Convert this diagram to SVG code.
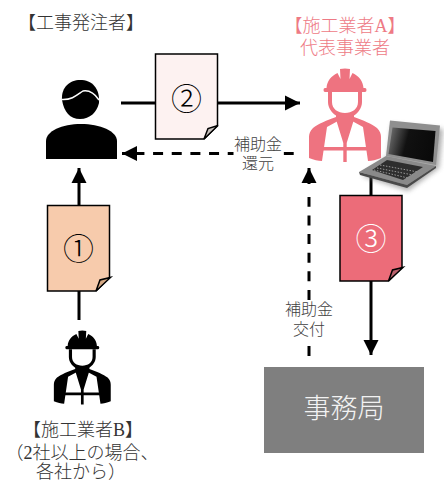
<svg xmlns="http://www.w3.org/2000/svg" width="444" height="482" viewBox="0 0 444 482">
<style>
text{font-family:"Liberation Serif","Noto Sans CJK JP",serif;text-anchor:middle}
.lbl{font-size:18px;font-weight:300;fill:#333}
.pink{fill:#ee7a85}
.small{font-size:16px;font-weight:300;fill:#404040}
.line{stroke:#000;stroke-width:3;fill:none}
.dash{stroke-dasharray:10 8.66}
.doc{stroke:#000;stroke-width:1.5}
.num{font-family:"Noto Sans CJK JP",sans-serif;font-size:31px;font-weight:300}
</style>
<defs>
<marker id="arr" markerUnits="userSpaceOnUse" markerWidth="16" markerHeight="16" refX="15" refY="8" orient="auto"><path d="M0 0.500L15 8L0 15.500z" fill="#000"/></marker>
<linearGradient id="scr" x1="0" y1="0" x2="1" y2="0.2"><stop offset="0" stop-color="#777"/><stop offset=".45" stop-color="#111"/><stop offset="1" stop-color="#0a0a0a"/></linearGradient>
<filter id="blur" x="-20%" y="-20%" width="140%" height="140%"><feGaussianBlur stdDeviation="2.500"/></filter>
<g id="worker">
<path d="M-5 4Q0 3 5 4L4.500 14L7.500 8C14 11 18 16 18.500 23H20Q21.500 23 21.500 25Q21.500 27 20 27H-20Q-21.500 27-21.500 25Q-21.500 23-20 23H-18.500C-18 16-14 11-7.500 8L-4.500 14z"/>
<path d="M-17 27H-13V37C-13 44-7 48 0 48S13 44 13 37V27H17V37C17 43 13 48 9 50.500V52C18 55 27 59 32 63C35 66 36 69 36 72V93C31 95 27 96 23 96L18 62L8 56.500H-8L-18 62L-23 96C-27 96-31 95-36 93V72C-36 69-35 66-32 63C-27 59-18 55-9 52V50.500C-13 48-17 43-17 37z"/>
<path d="M-8.500 56H8.500L1.700 78V82H23V85.500H1.700V97H-1.700V85.500H-23V82H-1.700V78z"/>
</g>
</defs>
<g id="connectors">
<path class="line" d="M121 103H300" marker-end="url(#arr)"/>
<path class="line dash" d="M293.700 153.500H122" marker-end="url(#arr)"/>
<path class="line" d="M79 320V168" marker-end="url(#arr)"/>
<path class="line dash" d="M309 356V197"/>
<path class="line" d="M309 184V168" marker-end="url(#arr)"/>
<path class="line" d="M371 177V355" marker-end="url(#arr)"/>
</g>
<rect x="233.500" y="135" width="50" height="40" fill="#fff"/>
<rect x="283" y="300.500" width="52" height="40" fill="#fff"/>
<text class="small" x="258" y="150">補助金<tspan x="258" dy="19">還元</tspan></text>
<text class="small" x="309" y="315">補助金<tspan x="309" dy="20">交付</tspan></text>
<g id="client">
<text class="lbl" x="81" y="29">【工事発注者】</text>
<path d="M62 100C61 87 70 80 80 80C92 80 100 88 99 103C97 112 90 119 80 119C70 119 64 112 62 100z"/>
<path d="M62 99.500C72 100 77 95 83 91C89 90 95 94 99 100" fill="none" stroke="#fff" stroke-width="1.500"/>
<path d="M46 159V141C46 131 62 124 81 124C100 124 117 131 117 141V159z"/>
</g>
<g id="doc2">
<path class="doc" fill="#fdf2f1" d="M155.500 54H217.500V125.500L204 139H155.500z"/>
<path class="doc" fill="#c8c1bd" d="M204 139L208 128.500L218 125.500z"/>
<text class="num" x="186.500" y="110">②</text>
</g>
<g id="contractorA" fill="#ee7380">
<text class="lbl pink" x="345" y="32">【施工業者A】<tspan x="345" dy="22">代表事業者</tspan></text>
<use href="#worker" x="345" y="65"/>
</g>
<g id="laptop">
<path d="M392 124L443 129L439 168L408 191L362 176L388 156z" fill="#777" opacity=".6" filter="url(#blur)"/>
<path d="M390 120.500L440 125.500L436 165L386 156z" fill="#8f8f8f"/>
<path d="M392.500 127.500L435.500 131L433 162L388.500 154z" fill="url(#scr)"/>
<path d="M386 156L436 166L407 185L359 172z" fill="#8a8a8a"/>
<path d="M387 160L423 167L403 180L372 170z" fill="#2e2e2e"/>
<path d="M380 165L418 172M377 168L413 175M374 170L408 178" stroke="#999" stroke-width="1" stroke-dasharray="1.500 1.500" fill="none"/>
<path d="M359 172L407 185L436 166L436 168L407 188L360 175z" fill="#4a4a4a"/>
</g>
<g id="doc3">
<path class="doc" fill="#ec6c79" d="M340 195.500H402V267.500L388.500 281H340z"/>
<path class="doc" fill="#b9606b" d="M388.500 281L392.500 270L403 267.500z"/>
<text class="num" x="371" y="250" fill="#fff">③</text>
</g>
<g id="doc1">
<path class="doc" fill="#f7cbac" d="M47.500 205.500H109.500V277.500L96 291H47.500z"/>
<path class="doc" fill="#d4a884" d="M96 291L100 280L110.500 277.500z"/>
<text class="num" x="78.500" y="260">①</text>
</g>
<g id="contractorB">
<use href="#worker" transform="translate(82.300 327.800) scale(.79)"/>
<text class="lbl" x="83" y="436">【施工業者B】</text>
<text class="lbl" x="82" y="459">（2社以上の場合、<tspan x="81" dy="19">各社から）</tspan></text>
</g>
<g id="office">
<rect x="264" y="367" width="160" height="86" fill="#7f7f7f"/>
<text x="344" y="418" fill="#f2f2f2" style="font-family:'Noto Sans CJK JP',sans-serif;font-size:27px;font-weight:300">事務局</text>
</g>
</svg>
